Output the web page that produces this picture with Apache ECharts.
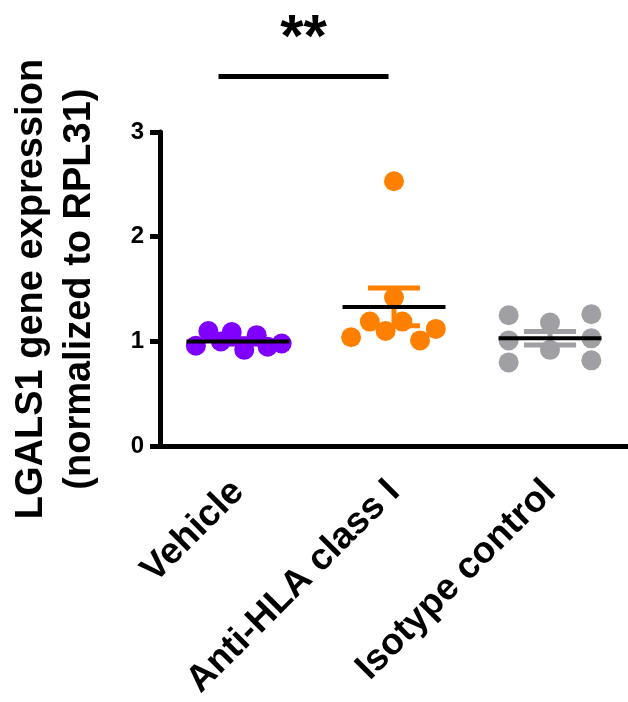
<!DOCTYPE html>
<html>
<head>
<meta charset="utf-8">
<script src="https://cdn.jsdelivr.net/npm/echarts@6/dist/echarts.min.js"></script>
<style>
  html, body { margin: 0; padding: 0; background: #fff; }
  #chart { width: 628px; height: 702px; }
</style>
</head>
<body>
<div id="chart"></div>
<script>
// groups on the x axis
var categories = ["Vehicle", "Anti-HLA class I", "Isotype control"];
var colors = ["#7f00ff", "#ff8000", "#a0a0a4"];

var vehicleValues = [0.96, 1.10, 1.00, 1.09, 0.92, 1.06, 0.95, 0.98];
var antiHlaValues = [2.53, 1.42, 1.19, 1.04, 1.10, 1.19, 1.01, 1.12];
var isotypeValues = [1.25, 1.01, 0.80, 1.18, 0.92, 1.26, 1.03, 0.82];

// horizontal scatter of the dots inside each column (fraction of a column)
var vehicleJitter = [-0.27, -0.19, -0.11, -0.04, 0.04, 0.12, 0.19, 0.28];
var antiHlaJitter = [0, 0, -0.155, -0.275, -0.054, 0.054, 0.167, 0.268];
var isotypeJitter = [-0.265, -0.265, -0.265, 0, 0, 0.265, 0.265, 0.265];

// mean and SEM shown by the black line and the error bars
var means = [1.0, 1.33, 1.03];
var sems = [0.025, 0.18, 0.065];

var yTicks = [0, 1, 2, 3];

// significance bracket
var sigGroups = [0, 1];
var sigLevel = 3.53;
var sigText = "**";

var font = "Liberation Sans, Arial, sans-serif";

function puntos(valores, jitter, grupo) {
  return valores.map(function (v, i) {
    return [grupo + jitter[i], v];
  });
}

var dom = document.getElementById("chart");
var myChart = echarts.init(dom, null, { renderer: "canvas" });

var option = {
  backgroundColor: "#fff",
  animation: false,
  grid: { left: 159, right: -6, top: 132, bottom: 253, containLabel: false },
  xAxis: [
    {
      type: "category",
      data: categories,
      axisLine: { onZero: false, lineStyle: { color: "#000", width: 5 } },
      axisTick: { alignWithLabel: true, length: 10, lineStyle: { color: "#000", width: 5 } },
      axisLabel: {
        rotate: 45,
        margin: 40,
        color: "#000",
        fontFamily: font,
        fontWeight: "bold",
        fontSize: 37,
      },
      splitLine: { show: false },
    },
    {
      type: "value",
      min: -0.5,
      max: 2.5,
      show: false,
    },
  ],
  yAxis: {
    type: "value",
    min: yTicks[0],
    max: yTicks[yTicks.length - 1],
    interval: 1,
    name: "LGALS1 gene expression\n(normalized to RPL31)",
    nameLocation: "middle",
    nameRotate: 90,
    nameGap: 56,
    nameTextStyle: {
      color: "#000",
      fontFamily: font,
      fontWeight: "bold",
      fontSize: 38,
      lineHeight: 48,
    },
    axisLine: { show: true, onZero: false, lineStyle: { color: "#000", width: 5 } },
    axisTick: { show: true, length: 10, lineStyle: { color: "#000", width: 5 } },
    axisLabel: {
      margin: 16,
      color: "#000",
      fontFamily: font,
      fontWeight: "bold",
      fontSize: 24,
    },
    splitLine: { show: false },
  },
  series: [
    {
      type: "scatter",
      xAxisIndex: 1,
      symbolSize: 20,
      z: 2,
      itemStyle: { color: colors[0], opacity: 1 },
      data: puntos(vehicleValues, vehicleJitter, 0),
    },
    {
      type: "scatter",
      xAxisIndex: 1,
      symbolSize: 20,
      z: 2,
      itemStyle: { color: colors[1], opacity: 1 },
      data: puntos(antiHlaValues, antiHlaJitter, 1),
    },
    {
      type: "scatter",
      xAxisIndex: 1,
      symbolSize: 20,
      z: 2,
      itemStyle: { color: colors[2], opacity: 1 },
      data: puntos(isotypeValues, isotypeJitter, 2),
    },
    {
      // error bars + mean line
      type: "custom",
      xAxisIndex: 1,
      z: 5,
      data: means.map(function (m, i) { return [i, m, sems[i]]; }),
      renderItem: function (params, api) {
        var g = api.value(0);
        var m = api.value(1);
        var s = api.value(2);
        var col = colors[g];
        var arriba = api.coord([g, m + s]);
        var abajo = api.coord([g, m - s]);
        var capIzqA = api.coord([g - 0.167, m + s]);
        var capDerA = api.coord([g + 0.167, m + s]);
        var capIzqB = api.coord([g - 0.167, m - s]);
        var capDerB = api.coord([g + 0.167, m - s]);
        var mIzq = api.coord([g - 0.33, m]);
        var mDer = api.coord([g + 0.33, m]);
        var barra = { stroke: col, lineWidth: 5 };
        return {
          type: "group",
          children: [
            { type: "line", shape: { x1: arriba[0], y1: arriba[1], x2: abajo[0], y2: abajo[1] }, style: barra },
            { type: "line", shape: { x1: capIzqA[0], y1: capIzqA[1], x2: capDerA[0], y2: capDerA[1] }, style: barra },
            { type: "line", shape: { x1: capIzqB[0], y1: capIzqB[1], x2: capDerB[0], y2: capDerB[1] }, style: barra },
            { type: "line", z2: 10, shape: { x1: mIzq[0], y1: mIzq[1], x2: mDer[0], y2: mDer[1] }, style: { stroke: "#000", lineWidth: 4 } },
          ],
        };
      },
    },
    {
      // significance bracket
      type: "custom",
      xAxisIndex: 1,
      clip: false,
      z: 5,
      data: [[sigGroups[0], sigGroups[1], sigLevel]],
      renderItem: function (params, api) {
        var a = api.coord([api.value(0) - 0.125, api.value(2)]);
        var b = api.coord([api.value(1) - 0.035, api.value(2)]);
        return {
          type: "group",
          children: [
            { type: "line", shape: { x1: a[0], y1: a[1], x2: b[0], y2: b[1] }, style: { stroke: "#000", lineWidth: 5 } },
            {
              type: "text",
              style: {
                x: (a[0] + b[0]) / 2,
                y: a[1] - 37,
                text: sigText,
                textAlign: "center",
                textVerticalAlign: "middle",
                fill: "#000",
                font: "bold 60px " + font,
              },
            },
          ],
        };
      },
    },
  ],
};

myChart.setOption(option);
window.addEventListener("resize", myChart.resize);
</script>
</body>
</html>
